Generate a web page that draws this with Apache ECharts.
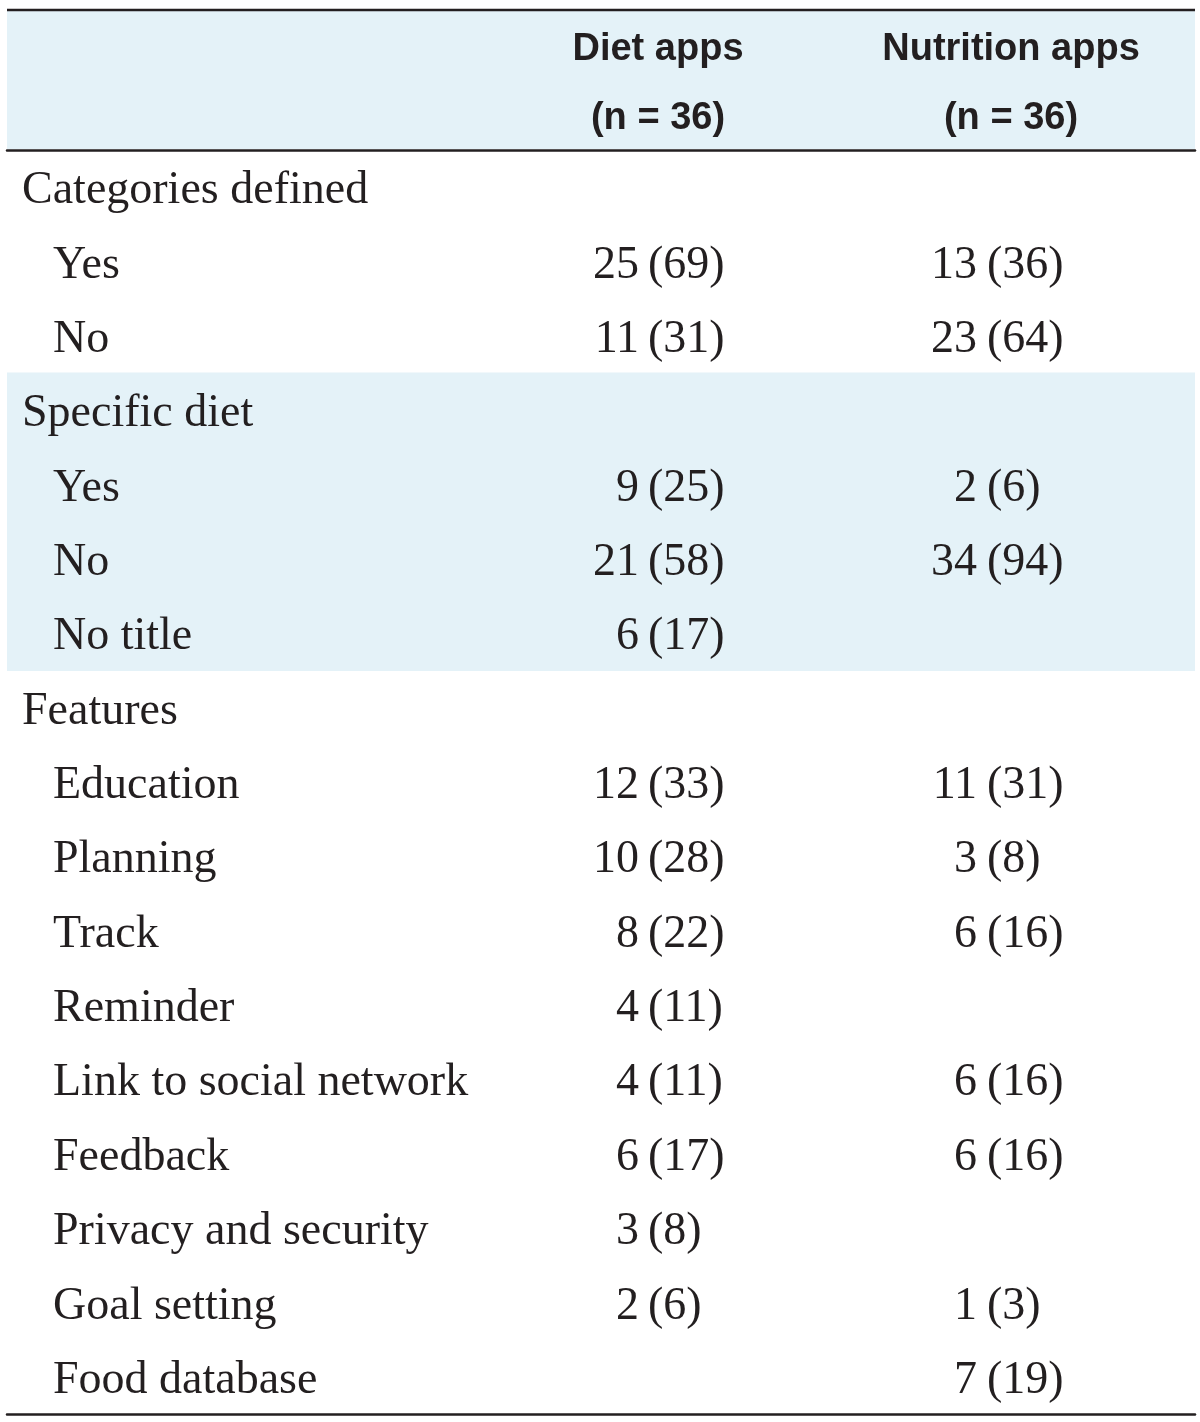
<!DOCTYPE html>
<html>
<head>
<meta charset="utf-8">
<script src="https://cdn.jsdelivr.net/npm/echarts@6/dist/echarts.min.js"></script>
<style>
html,body{margin:0;padding:0;background:#fff;}
#chart{width:1200px;height:1422px;}
</style>
</head>
<body>
<div id="chart"></div>
<script>
// ---- data ----
var columnHeaders = ['Diet apps', 'Nutrition apps'];
var columnN = [36, 36];
var rows = ['Categories defined', 'Yes', 'No', 'Specific diet', 'Yes', 'No', 'No title',
  'Features', 'Education', 'Planning', 'Track', 'Reminder', 'Link to social network',
  'Feedback', 'Privacy and security', 'Goal setting', 'Food database'];
var rowLevel = [0, 1, 1, 0, 1, 1, 1, 0, 1, 1, 1, 1, 1, 1, 1, 1, 1];
var shadedRows = [0, 0, 0, 1, 1, 1, 1, 0, 0, 0, 0, 0, 0, 0, 0, 0, 0];
var dietCount = [null, 25, 11, null, 9, 21, 6, null, 12, 10, 8, 4, 4, 6, 3, 2, null];
var dietPct = [null, 69, 31, null, 25, 58, 17, null, 33, 28, 22, 11, 11, 17, 8, 6, null];
var nutrCount = [null, 13, 23, null, 2, 34, null, null, 11, 3, 6, null, 6, 6, null, 1, 7];
var nutrPct = [null, 36, 64, null, 6, 94, null, null, 31, 8, 16, null, 16, 16, null, 3, 19];

// ---- layout ----
var INK = '#231f20';
var BAND = '#e4f2f8';
var SERIF = '46px "Liberation Serif", "Times New Roman", serif';
var SANS = 'bold 38px "Liberation Sans", Arial, sans-serif';
var X_LEFT = 7, X_RIGHT = 1195;
var X_LABEL = [22, 53];
var X_DIET_COUNT = 639, X_DIET_PCT = 648;
var X_NUTR_COUNT = 977, X_NUTR_PCT = 987;
var X_HEAD = [658, 1011];
var TEXT_DY = 4;

var chart = echarts.init(document.getElementById('chart'), null, {renderer: 'canvas'});

function txt(x, y, s, align) {
  return {
    type: 'text', x: x, y: y + TEXT_DY,
    style: {text: s, fill: INK, font: SERIF, align: align, verticalAlign: 'middle',
            textAlign: align, textVerticalAlign: 'middle'}
  };
}

var option = {
  animation: false,
  backgroundColor: '#ffffff',
  grid: {left: X_LEFT, right: 1200 - X_RIGHT, top: 150, bottom: 8},
  xAxis: [
    {type: 'value', min: X_LEFT, max: X_RIGHT, position: 'bottom',
     axisLine: {show: true, onZero: false, lineStyle: {color: INK, width: 2.5}},
     axisTick: {show: false}, axisLabel: {show: false}, splitLine: {show: false}},
    {type: 'value', min: X_LEFT, max: X_RIGHT, position: 'top',
     axisLine: {show: true, onZero: false, lineStyle: {color: INK, width: 2.5}},
     axisTick: {show: false}, axisLabel: {show: false}, splitLine: {show: false}}
  ],
  yAxis: {type: 'category', data: rows, inverse: true, boundaryGap: true,
    axisLine: {show: false}, axisTick: {show: false}, axisLabel: {show: false}, splitLine: {show: false}},
  graphic: [
    {type: 'rect', shape: {x: X_LEFT, y: 11, width: X_RIGHT - X_LEFT, height: 138}, style: {fill: BAND}, z: 0},
    {type: 'line', shape: {x1: X_LEFT, y1: 10, x2: X_RIGHT, y2: 10}, style: {stroke: INK, lineWidth: 2.5}},
    {type: 'text', x: X_HEAD[0], y: 50, style: {text: columnHeaders[0], font: SANS, fill: INK, align: 'center', verticalAlign: 'middle'}},
    {type: 'text', x: X_HEAD[0], y: 119, style: {text: '(n = ' + columnN[0] + ')', font: SANS, fill: INK, align: 'center', verticalAlign: 'middle'}},
    {type: 'text', x: X_HEAD[1], y: 50, style: {text: columnHeaders[1], font: SANS, fill: INK, align: 'center', verticalAlign: 'middle'}},
    {type: 'text', x: X_HEAD[1], y: 119, style: {text: '(n = ' + columnN[1] + ')', font: SANS, fill: INK, align: 'center', verticalAlign: 'middle'}}
  ],
  series: [
    {
      type: 'custom', name: 'band', z: 1, silent: true,
      data: rows.map(function (_, i) { return [i, shadedRows[i]]; }),
      renderItem: function (params, api) {
        var i = api.value(0);
        if (!api.value(1)) return null;
        var p0 = api.coord([X_LEFT, i]);
        var p1 = api.coord([X_RIGHT, i]);
        var h = api.size([0, 1])[1];
        return {type: 'rect', shape: {x: p0[0], y: p0[1] - h / 2 - 0.5, width: p1[0] - p0[0], height: h + 1},
                style: {fill: BAND, stroke: null}};
      }
    },
    {
      type: 'custom', name: 'cells', z: 3, silent: true,
      data: rows.map(function (_, i) { return [i]; }),
      renderItem: function (params, api) {
        var i = api.value(0);
        var children = [];
        var pl = api.coord([X_LABEL[rowLevel[i]], i]);
        children.push(txt(pl[0], pl[1], rows[i], 'left'));
        if (dietCount[i] != null) {
          var a = api.coord([X_DIET_COUNT, i]);
          var b = api.coord([X_DIET_PCT, i]);
          children.push(txt(a[0], a[1], String(dietCount[i]), 'right'));
          children.push(txt(b[0], b[1], '(' + dietPct[i] + ')', 'left'));
        }
        if (nutrCount[i] != null) {
          var c = api.coord([X_NUTR_COUNT, i]);
          var d = api.coord([X_NUTR_PCT, i]);
          children.push(txt(c[0], c[1], String(nutrCount[i]), 'right'));
          children.push(txt(d[0], d[1], '(' + nutrPct[i] + ')', 'left'));
        }
        return {type: 'group', children: children};
      }
    }
  ]
};
chart.setOption(option);
</script>
</body>
</html>
